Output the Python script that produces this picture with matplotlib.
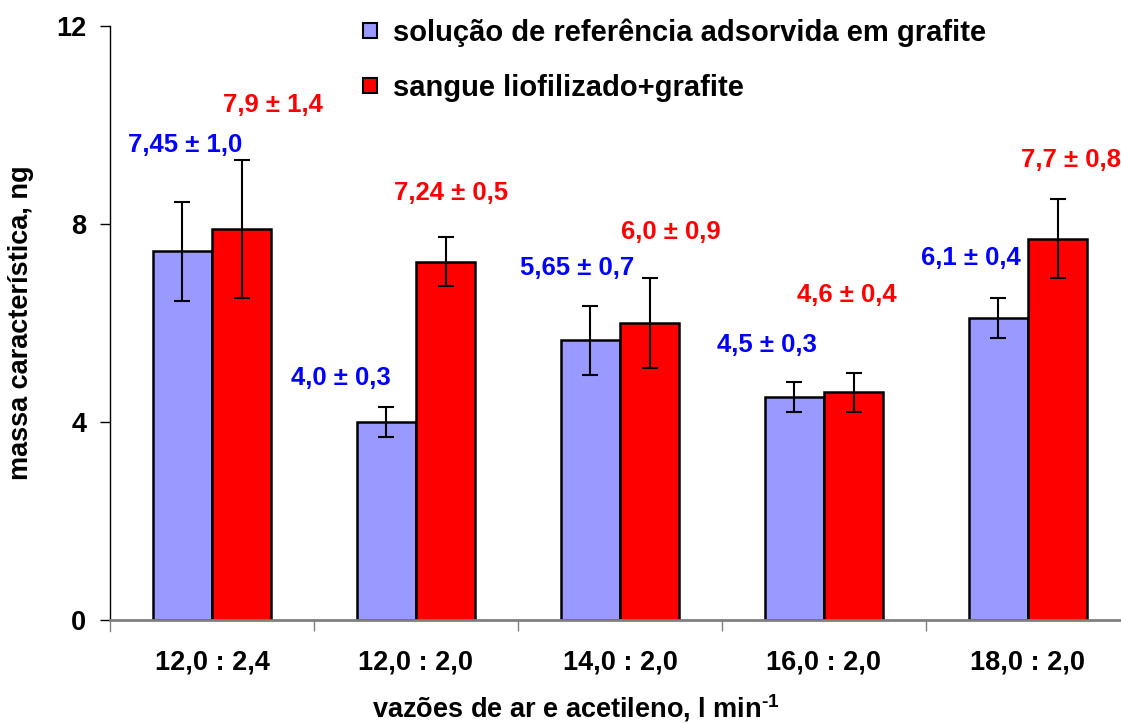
import matplotlib
matplotlib.use("Agg")
import matplotlib.pyplot as plt
import numpy as np

categories = ["12,0 : 2,4", "12,0 : 2,0", "14,0 : 2,0", "16,0 : 2,0", "18,0 : 2,0"]
ref_values = [7.45, 4.0, 5.65, 4.5, 6.1]
ref_errors = [1.0, 0.3, 0.7, 0.3, 0.4]
blood_values = [7.9, 7.24, 6.0, 4.6, 7.7]
blood_errors = [1.4, 0.5, 0.9, 0.4, 0.8]
ref_labels = ["7,45 ± 1,0", "4,0 ± 0,3", "5,65 ± 0,7", "4,5 ± 0,3", "6,1 ± 0,4"]
blood_labels = ["7,9 ± 1,4", "7,24 ± 0,5", "6,0 ± 0,9", "4,6 ± 0,4", "7,7 ± 0,8"]
series_names = ["solução de referência adsorvida em grafite", "sangue liofilizado+grafite"]

# label placement (data coords)
ref_label_pos = [(-0.13, 9.6), (0.63, 4.89), (1.79, 7.11), (2.72, 5.56), (3.72, 7.31)]
blood_label_pos = [(0.30, 10.4), (1.17, 8.63), (2.25, 7.84), (3.11, 6.57), (4.21, 9.29)]

plt.rcParams['font.family'] = ['Liberation Sans', 'DejaVu Sans']
plt.rcParams['font.weight'] = 'bold'
plt.rcParams['mathtext.fontset'] = 'custom'
plt.rcParams['mathtext.rm'] = 'Liberation Sans:bold'
plt.rcParams['mathtext.it'] = 'Liberation Sans:bold'
plt.rcParams['mathtext.bf'] = 'Liberation Sans:bold'

fig = plt.figure(figsize=(11.21, 7.24), dpi=100)
ax = fig.add_axes([110/1121, 104/724, 1011/1121, 594/724])

x = np.arange(len(categories))
w = 0.29
ax.bar(x - w/2, ref_values, w, color="#9999FF", edgecolor="black", linewidth=1.8, label=series_names[0], zorder=2)
ax.bar(x + w/2, blood_values, w, color="#FF0000", edgecolor="black", linewidth=1.8, label=series_names[1], zorder=2)
ax.errorbar(x - w/2, ref_values, yerr=ref_errors, fmt="none", ecolor="black", elinewidth=1.5, capsize=5.5, capthick=1.5, zorder=3)
ax.errorbar(x + w/2, blood_values, yerr=blood_errors, fmt="none", ecolor="black", elinewidth=1.5, capsize=5.5, capthick=1.5, zorder=3)

for (lx, ly), t in zip(ref_label_pos, ref_labels):
    ax.text(lx, ly, t, color="#0000FF", fontsize=18.5, fontweight="bold", ha="center", va="center")
for (lx, ly), t in zip(blood_label_pos, blood_labels):
    ax.text(lx, ly, t, color="#FF0000", fontsize=18.5, fontweight="bold", ha="center", va="center")

ax.set_xlim(-0.5, -0.5 + 1011/204)
ax.set_ylim(0, 12)
ax.set_yticks([0, 4, 8, 12])
ax.set_xticks(x)
ax.set_xticklabels(categories, fontsize=19.5, fontweight="bold")
ax.set_xticks(np.arange(0.5, 4.0, 1.0), minor=True)
ax.tick_params(axis="x", which="major", length=0, pad=21.5)
ax.tick_params(axis="x", which="minor", length=8, color="#808080", width=1)
ax.tick_params(axis="y", length=7, width=1, labelsize=19.5, pad=10)
for lab in ax.get_yticklabels():
    lab.set_fontweight("bold")
ax.spines["top"].set_visible(False)
ax.spines["right"].set_visible(False)
ax.spines["bottom"].set_color("#808080")
ax.spines["bottom"].set_linewidth(2)
ax.spines["left"].set_linewidth(1)
ax.plot([-0.5, -0.5], [0, -0.22], color="#808080", lw=1, clip_on=False)

ax.set_ylabel("massa característica, ng", fontsize=19.5, fontweight="bold")
ax.yaxis.set_label_coords(34/1011 - 110/1011, 0.5)
ax.set_xlabel("vazões de ar e acetileno, l min$^{\u2010\\mathbf{1}}$", fontsize=19.5, fontweight="bold")
ax.xaxis.set_label_coords((576 - 110)/1011, -(717 - 620)/594)
ax.xaxis.label.set_verticalalignment("baseline")

leg = ax.legend(loc="upper left", bbox_to_anchor=(233/1011, 1.047), frameon=False, fontsize=21,
                handlelength=0.45, handleheight=0.45, handletextpad=0.55, labelspacing=0.92,
                borderaxespad=0.3)
for t in leg.get_texts():
    t.set_fontweight("bold")
for h in leg.legend_handles:
    h.set_linewidth(1.5)

fig.savefig("out.png", dpi=100)
